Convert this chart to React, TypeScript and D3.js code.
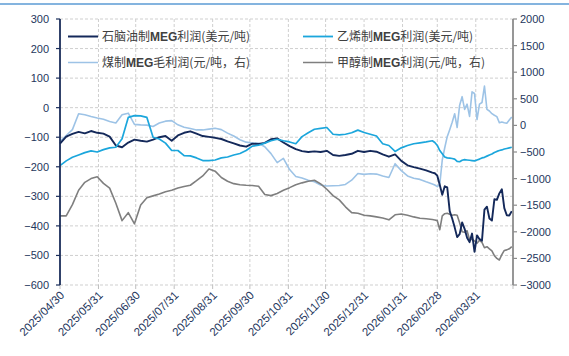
import React from 'react';
import * as d3 from 'd3';

const dates = [
  '2025-04-30','2025-05-05','2025-05-10','2025-05-15','2025-05-20','2025-05-25','2025-05-30',
  '2025-06-04','2025-06-09','2025-06-14','2025-06-19','2025-06-24','2025-06-29',
  '2025-07-04','2025-07-09','2025-07-14','2025-07-19','2025-07-24','2025-07-29',
  '2025-08-03','2025-08-08','2025-08-13','2025-08-18','2025-08-23','2025-08-28',
  '2025-09-02','2025-09-07','2025-09-12','2025-09-17','2025-09-22','2025-09-27',
  '2025-10-02','2025-10-07','2025-10-12','2025-10-17','2025-10-22','2025-10-27',
  '2025-11-01','2025-11-06','2025-11-11','2025-11-16','2025-11-21','2025-11-26',
  '2025-12-01','2025-12-06','2025-12-11','2025-12-16','2025-12-21','2025-12-26','2025-12-31',
  '2026-01-05','2026-01-10','2026-01-15','2026-01-20','2026-01-25','2026-01-30',
  '2026-02-04','2026-02-09','2026-02-14','2026-02-19','2026-02-24',
  '2026-02-26','2026-02-28',
  '2026-03-02','2026-03-04','2026-03-06','2026-03-08','2026-03-10','2026-03-12','2026-03-14','2026-03-16',
  '2026-03-18','2026-03-20','2026-03-22','2026-03-24','2026-03-26','2026-03-28','2026-03-30',
  '2026-04-01','2026-04-03','2026-04-05','2026-04-07','2026-04-09','2026-04-11','2026-04-13','2026-04-15',
  '2026-04-17','2026-04-19','2026-04-21','2026-04-23','2026-04-25','2026-04-27','2026-04-29'
];

// 石脑油制MEG利润 (美元/吨, left)
const naphtha = [
  -122,-98,-89,-82,-87,-79,-85,-88,-98,-128,-134,-118,-108,-112,-115,-108,-100,-96,-112,-94,
  -85,-80,-88,-96,-99,-102,-106,-114,-121,-128,-132,-122,-123,-119,-107,-104,-118,-130,-140,-147,
  -150,-148,-150,-146,-160,-163,-160,-156,-146,-150,-146,-149,-158,-166,-158,-180,-195,-201,-206,-212,-220,
  -222,-230,-262,-295,-266,-270,-350,-375,-405,-438,-428,-388,-410,-440,-455,-426,-488,-432,-445,-450,
  -345,-335,-375,-382,-310,-312,-290,-276,-340,-364,-365,-350
];

// 乙烯制MEG利润 (美元/吨, left)
const ethylene = [
  -196,-180,-168,-160,-152,-146,-150,-142,-136,-134,-105,-33,-27,-28,-33,-100,-106,-120,-145,-145,
  -162,-163,-170,-179,-179,-177,-170,-167,-160,-155,-145,-130,-127,-120,-112,-107,-112,-116,-122,-98,
  -85,-73,-70,-67,-90,-92,-90,-85,-76,-84,-90,-96,-122,-128,-148,-136,-128,-122,-119,-116,-112,
  -118,-128,-145,-156,-167,-170,-171,-172,-174,-182,-183,-178,-176,-177,-178,-179,-180,-177,-174,-170,
  -168,-164,-160,-157,-152,-148,-145,-143,-140,-138,-136,-134
];

// 煤制MEG毛利润 (元/吨, right)
const coal = [
  -300,-190,-80,220,200,168,140,115,75,45,200,230,20,10,5,-20,45,80,90,10,
  -35,-60,-85,-85,-70,-55,-80,-145,-200,-270,-315,-330,-336,-400,-530,-700,-620,-830,-960,-990,
  -1030,-1060,-1120,-1140,-1135,-1130,-1110,-1030,-905,-920,-910,-915,-950,-980,-720,-850,-950,-995,-1015,-1060,-1100,
  -1120,-1150,-1110,-650,-420,-212,-80,60,220,-40,380,540,300,400,170,630,600,110,400,430,
  740,300,270,220,190,165,50,65,50,40,100,160
];

// 甲醇制MEG利润 (元/吨, right)
const methanol = [
  -1700,-1700,-1490,-1220,-1070,-1000,-964,-1090,-1180,-1464,-1790,-1640,-1850,-1496,-1360,-1325,-1290,-1246,-1220,-1175,
  -1150,-1125,-1040,-950,-820,-860,-980,-1050,-1095,-1115,-1125,-1130,-1145,-1300,-1320,-1280,-1220,-1170,-1115,-1080,
  -1050,-1030,-1100,-1200,-1320,-1400,-1530,-1640,-1650,-1690,-1700,-1720,-1740,-1775,-1680,-1665,-1690,-1720,-1746,-1755,-1770,
  -1778,-1790,-1960,-1700,-1660,-1652,-1670,-1690,-1680,-1690,-1830,-2000,-2010,-1980,-2150,-2140,-2170,-2216,-2160,-2200,
  -2300,-2280,-2320,-2360,-2450,-2500,-2530,-2430,-2350,-2340,-2320,-2280
];

const leftTicks = [300, 200, 100, 0, -100, -200, -300, -400, -500, -600];
const rightTicks = [2000, 1500, 1000, 500, 0, -500, -1000, -1500, -2000, -2500, -3000];
const monthLabels = [
  '2025/04/30','2025/05/31','2025/06/30','2025/07/31','2025/08/31','2025/09/30',
  '2025/10/31','2025/11/30','2025/12/31','2026/01/31','2026/02/28','2026/03/31'
];
const domainEnd = '2026/04/30';

const legendItems = [
  { pre: '石脑油制', post: '利润(美元/吨)', color: '#14295a', w: 2, col: 0, row: 0 },
  { pre: '乙烯制', post: '利润(美元/吨)', color: '#1ba6dc', w: 1.8, col: 1, row: 0 },
  { pre: '煤制', post: '毛利润(元/吨，右)', color: '#9dc3e6', w: 1.5, col: 0, row: 1 },
  { pre: '甲醇制', post: '利润(元/吨，右)', color: '#7f7f7f', w: 1.5, col: 1, row: 1 },
];

const W = 569, H = 356;
const L = 60, R = 513, T = 19, B = 285;
const numFont = '"Liberation Sans", Arial, sans-serif';
const cjkFont = '"Noto Sans CJK SC", "Noto Sans", sans-serif';
const axisColor = '#24365c';
const gridColor = '#cfcfcf';

export default function App() {
  const parseD = d3.timeParse('%Y-%m-%d');
  const parseM = d3.timeParse('%Y/%m/%d');
  const xd = dates.map(d => parseD(d) as Date);
  const x = d3.scaleTime().domain([parseM(monthLabels[0]) as Date, parseM(domainEnd) as Date]).range([L, R]);
  const yL = d3.scaleLinear().domain([-600, 300]).range([B, T]);
  const yR = d3.scaleLinear().domain([-3000, 2000]).range([B, T]);
  const fmt = d3.format('');

  const mkLine = (vals: number[], y: d3.ScaleLinear<number, number>) =>
    d3.line<number>().x((_, i) => x(xd[i])).y(v => y(v))(vals) || '';

  const monthXs = [...monthLabels, domainEnd].map(m => x(parseM(m) as Date));

  return (
    <svg width={W} height={H} style={{ position: 'absolute', left: 0, top: 0, background: '#fff' }}>
      <rect x={0} y={0} width={W} height={H} fill="#fff" />
      <line x1={0} x2={W} y1={4} y2={4} stroke="#5b9bd5" strokeWidth={1.6} />

      {/* grid */}
      {leftTicks.map(t => (
        <line key={'h' + t} x1={L} x2={R} y1={yL(t)} y2={yL(t)} stroke={gridColor} strokeWidth={1} strokeDasharray="3 2" />
      ))}
      {monthXs.slice(1, -1).map((mx, i) => (
        <line key={'v' + i} x1={mx} x2={mx} y1={T} y2={B} stroke={gridColor} strokeWidth={1} strokeDasharray="3 2" />
      ))}
      {monthXs.map((mx, i) => (
        <line key={'xt' + i} x1={mx} x2={mx} y1={B} y2={B + 4} stroke="#bfbfbf" strokeWidth={1} />
      ))}

      {/* series: secondary first */}
      <path d={mkLine(coal, yR)} fill="none" stroke="#9dc3e6" strokeWidth={1.6} strokeLinejoin="round" />
      <path d={mkLine(methanol, yR)} fill="none" stroke="#7f7f7f" strokeWidth={1.6} strokeLinejoin="round" />
      <path d={mkLine(naphtha, yL)} fill="none" stroke="#14295a" strokeWidth={1.9} strokeLinejoin="round" />
      <path d={mkLine(ethylene, yL)} fill="none" stroke="#1ba6dc" strokeWidth={1.7} strokeLinejoin="round" />

      {/* left axis */}
      <line x1={L} x2={L} y1={T} y2={B} stroke="#1a2d5a" strokeWidth={1.8} />
      {leftTicks.map(t => (
        <g key={'lt' + t}>
          <line x1={L - 4} x2={L} y1={yL(t)} y2={yL(t)} stroke="#1a2d5a" strokeWidth={1.2} />
          <text x={49} y={yL(t) + 4} textAnchor="end" fontSize={11} fontFamily={numFont} fill={axisColor}>
            {fmt(t)}
          </text>
        </g>
      ))}

      {/* right axis */}
      <line x1={R} x2={R} y1={T} y2={B} stroke="#8c8c8c" strokeWidth={1.8} />
      {rightTicks.map(t => (
        <g key={'rt' + t}>
          <line x1={R} x2={R + 4} y1={yR(t)} y2={yR(t)} stroke="#8c8c8c" strokeWidth={1.2} />
          <text x={520} y={yR(t) + 4} textAnchor="start" fontSize={11} fontFamily={numFont} fill={axisColor}>
            {fmt(t)}
          </text>
        </g>
      ))}

      {/* x labels */}
      {monthLabels.map((m, i) => (
        <text
          key={'xl' + m}
          transform={`translate(${monthXs[i] + 5},${B + 11}) rotate(-45)`}
          textAnchor="end"
          fontSize={11.5}
          fontFamily={numFont}
          fill={axisColor}
        >
          {m}
        </text>
      ))}

      {/* legend */}
      {legendItems.map((it, i) => {
        const lx = it.col === 0 ? 68 : 303;
        const ly = it.row === 0 ? 36.5 : 62.5;
        return (
          <g key={'lg' + i}>
            <line x1={lx} x2={lx + 30} y1={ly} y2={ly} stroke={it.color} strokeWidth={it.w} />
            <text x={lx + 34} y={ly + 4.5} fontSize={12} fontFamily={cjkFont} fill="#404040">
              {it.pre}
              <tspan fontWeight="bold" fontFamily={numFont}>MEG</tspan>
              {it.post}
            </text>
          </g>
        );
      })}
    </svg>
  );
}
